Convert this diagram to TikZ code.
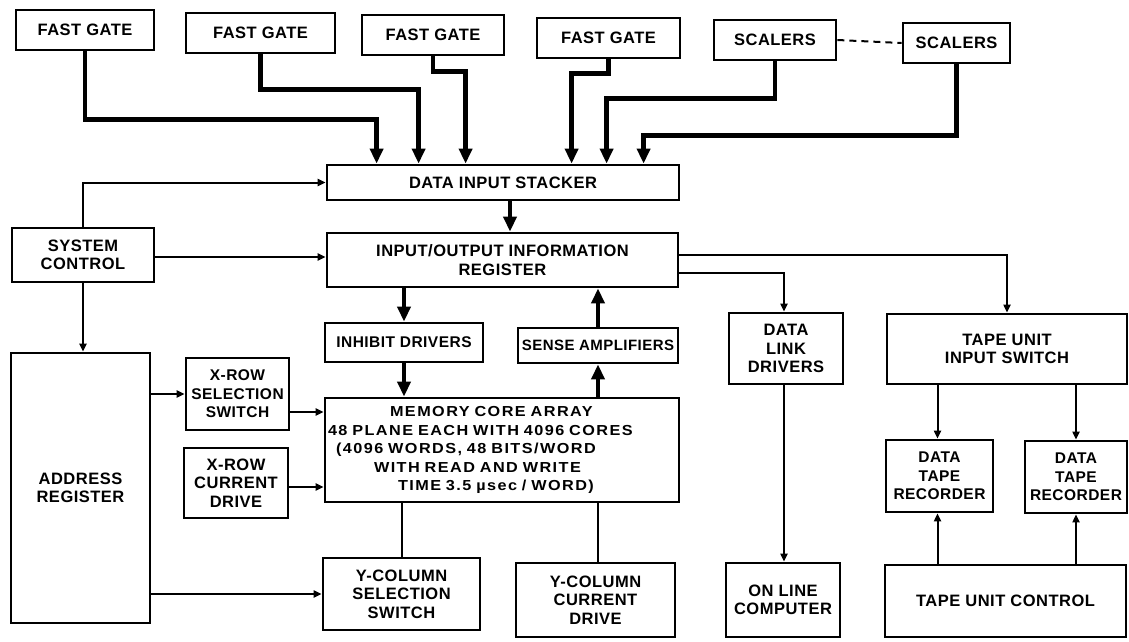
\documentclass[tikz,border=0pt]{standalone}
\usepackage{fontspec}
\setmainfont{Liberation Sans}[LetterSpace=3]
\newfontfamily\memfont{Liberation Sans}[FakeStretch=1.12,LetterSpace=10]
\usetikzlibrary{arrows.meta,calc}
\tikzset{
  box/.style={draw, line width=2.8pt, inner sep=2pt, align=center,
    font=\fontsize{16.5}{18.5}\selectfont\bfseries},
  smallbox/.style={box, font=\fontsize{15.5}{18.5}\selectfont\bfseries},
  bus/.style={line width=4.8pt, -{Triangle[width=13pt,length=15pt]}},
  sig/.style={line width=2pt, -{Triangle[width=7pt,length=8pt]}},
  plain/.style={line width=2pt},
  dashlink/.style={line width=2pt, dashed, dash pattern=on 7pt off 5pt}
}
\begin{document}
\begin{tikzpicture}[x=1pt,y=-1pt]
\useasboundingbox (0,0) rectangle (1129,642);
\fill[white] (0,0) rectangle (1129,642);
% top row
\node[box, minimum width=138pt, minimum height=40pt] (fg1) at (85,30) {FAST GATE};
\node[box, minimum width=149pt, minimum height=40pt] (fg2) at (260.5,33) {FAST GATE};
\node[box, minimum width=142pt, minimum height=40pt] (fg3) at (433,35) {FAST GATE};
\node[box, minimum width=143pt, minimum height=40pt] (fg4) at (608.5,38) {FAST GATE};
\node[box, minimum width=122pt, minimum height=40pt] (sc1) at (775,40) {SCALERS};
\node[box, minimum width=107pt, minimum height=40pt] (sc2) at (956.5,43) {SCALERS};
% middle
\node[box, minimum width=352pt, minimum height=35pt] (stk) at (503,182.5) {DATA INPUT STACKER};
\node[box, minimum width=142pt, minimum height=54pt] (ctl) at (83,255) {SYSTEM\\CONTROL};
\node[box, minimum width=351pt, minimum height=54pt] (io) at (502.5,260) {INPUT/OUTPUT INFORMATION\\REGISTER};
\node[smallbox, minimum width=158pt, minimum height=39pt] (inh) at (404,342.5) {INHIBIT DRIVERS};
\node[box, minimum width=160pt, minimum height=35pt, inner sep=0pt, font=\fontsize{15}{18}\selectfont\bfseries] (sns) at (598,345.5) {SENSE AMPLIFIERS};
\node[box, minimum width=114pt, minimum height=71pt] (dld) at (786,348.5) {DATA\\LINK\\DRIVERS};
\node[box, minimum width=240pt, minimum height=70pt] (tuis) at (1007,349) {TAPE UNIT\\INPUT SWITCH};
\node[box, minimum width=139pt, minimum height=270pt] (adr) at (80.5,488) {ADDRESS\\REGISTER};
\node[smallbox, minimum width=103pt, minimum height=72pt] (xrs) at (237.5,394) {X-ROW\\SELECTION\\SWITCH};
\node[box, minimum width=104pt, minimum height=70pt] (xrc) at (236,483) {X-ROW\\CURRENT\\DRIVE};
\node[box, minimum width=354pt, minimum height=104pt, text width=348pt, align=left,
  font=\memfont\fontsize{14.5}{18.5}\selectfont\bfseries] (mem) at (502,450)
  {\hspace*{62pt}MEMORY CORE ARRAY\\
   48 PLANE EACH WITH 4096 CORES\\
   \hspace*{8pt}(4096 WORDS, 48 BITS/WORD\\
   \hspace*{46pt}WITH READ AND WRITE\\
   \hspace*{70pt}TIME 3.5 µsec / WORD)};
\node[smallbox, minimum width=107pt, minimum height=72pt] (dtr1) at (939.5,476) {DATA\\TAPE\\RECORDER};
\node[smallbox, minimum width=102pt, minimum height=72pt] (dtr2) at (1076,477) {DATA\\TAPE\\RECORDER};
% bottom row
\node[box, minimum width=157pt, minimum height=72pt] (ycs) at (401.5,594) {Y-COLUMN\\SELECTION\\SWITCH};
\node[box, minimum width=159pt, minimum height=74pt] (ycd) at (595.5,600) {Y-COLUMN\\CURRENT\\DRIVE};
\node[box, minimum width=114pt, minimum height=74pt] (olc) at (783,600) {ON LINE\\COMPUTER};
\node[box, minimum width=241pt, minimum height=72pt] (tuc) at (1005.5,601) {TAPE UNIT CONTROL};

% bus inputs to the stacker
\draw[bus] (fg1.south) -- ++(0,68) -| ([xshift=51pt]stk.north west);
\draw[bus] (fg2.south) -- ++(0,35) -| ([xshift=93pt]stk.north west);
\draw[bus] (fg3.south) -- ++(0,15) -| ([xshift=140pt]stk.north west);
\draw[bus] (fg4.south) -- ++(0,14) -| ([xshift=246pt]stk.north west);
\draw[bus] (sc1.south) -- ++(0,37) -| ([xshift=281pt]stk.north west);
\draw[bus] (sc2.south) -- ++(0,71) -| ([xshift=318pt]stk.north west);
\draw[dashlink] (sc1.east) -- (sc2.west);

% stacker -> io, io <-> memory
\coordinate (stkout) at ([xshift=7pt]stk.south);
\draw[bus] (stkout) -- (stkout |- io.north);
\draw[bus] (inh.north |- io.south) -- (inh.north);
\draw[bus] (inh.south) -- (inh.south |- mem.north);
\draw[bus] (sns.south |- mem.north) -- (sns.south);
\draw[bus] (sns.north) -- (sns.north |- io.south);

% system control
\draw[sig] (ctl.north) |- (stk.west);
\coordinate (ctlio) at ([yshift=-2pt]ctl.east);
\draw[sig] (ctlio) -- (ctlio -| io.west);
\draw[sig] (ctl.south) -- (ctl.south |- adr.north);

% address register and X/Y drivers
\draw[sig] (adr.east |- xrs.west) -- (xrs.west);
\coordinate (xrsout) at ([yshift=-18pt]xrs.east);
\draw[sig] (xrsout) -- (xrsout -| mem.west);
\coordinate (xrcout) at ([yshift=-4pt]xrc.east);
\draw[sig] (xrcout) -- (xrcout -| mem.west);
\draw[sig] (adr.east |- ycs.west) -- (ycs.west);
\draw[plain] (ycs.north |- mem.south) -- (ycs.north);
\draw[plain] ([xshift=2pt]ycd.north |- mem.south) -- ([xshift=2pt]ycd.north);

% outputs of the io register
\draw[sig] ([yshift=-13pt]io.east) -| ([xshift=-2pt]dld.north);
\draw[sig] ([yshift=5pt]io.east) -| (tuis.north);
\draw[sig] ([xshift=-2pt]dld.south) -- ([xshift=-2pt]dld.south |- olc.north);

% tape units
\draw[sig] ([xshift=-2pt]dtr1.north |- tuis.south) -- ([xshift=-2pt]dtr1.north);
\draw[sig] (dtr2.north |- tuis.south) -- (dtr2.north);
\draw[sig] ([xshift=-2pt]dtr1.south |- tuc.north) -- ([xshift=-2pt]dtr1.south);
\draw[sig] (dtr2.south |- tuc.north) -- (dtr2.south);
\end{tikzpicture}
\end{document}
